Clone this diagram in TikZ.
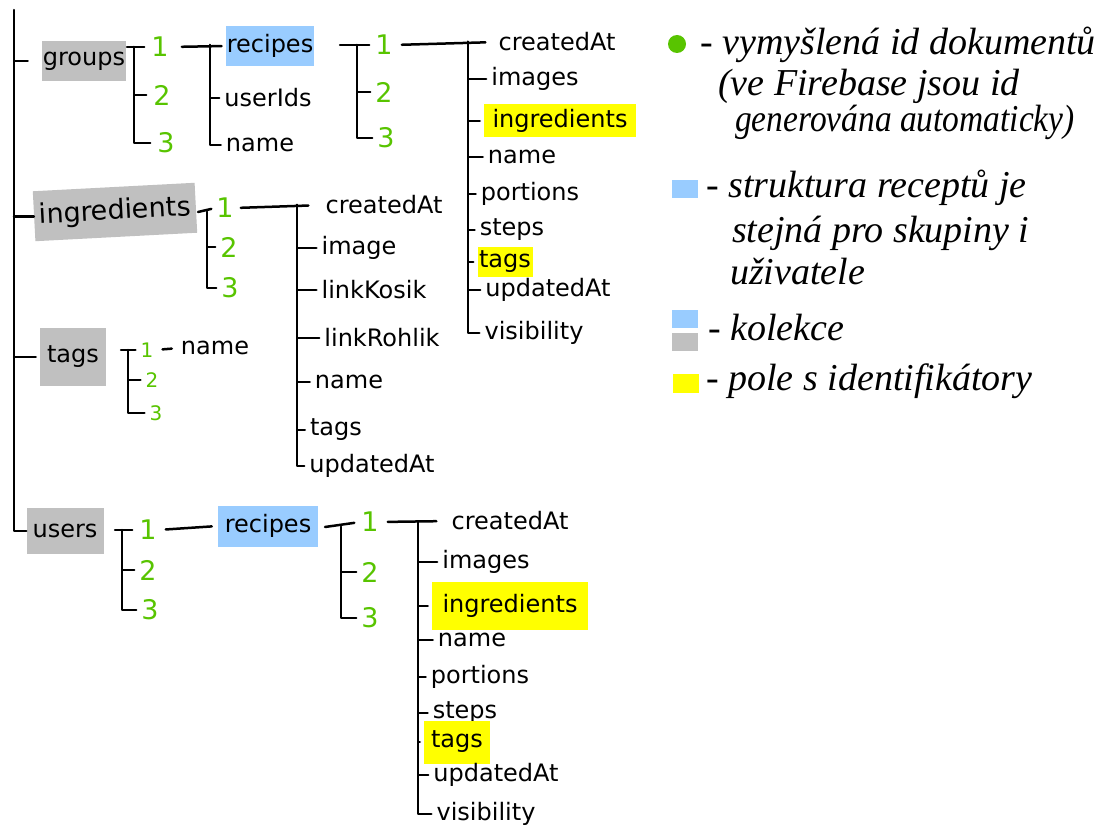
\documentclass[tikz,border=0pt]{standalone}
\usepackage{graphicx}
\usepackage{fontspec}
\setmainfont{DejaVu Sans}
\newfontfamily\handfont{Liberation Serif}
\begin{document}
\begin{tikzpicture}[x=1pt,y=-1pt]
\definecolor{idgreen}{RGB}{88,196,0}
\definecolor{collgray}{RGB}{192,192,192}
\definecolor{subblue}{RGB}{153,204,255}
\definecolor{arryellow}{RGB}{255,255,0}
\tikzset{
  wire/.style={line width=2.5pt, line cap=round, line join=round},
  tick/.style={wire, shorten >=4pt},
  leaf/.style={font=\fontsize{24}{28}\selectfont, inner sep=1pt},
  docid/.style={font=\fontsize{27}{31}\selectfont, text=idgreen, inner sep=1pt},
  smallid/.style={docid, font=\fontsize{20}{23}\selectfont},
  coll/.style={leaf, fill=collgray},
  subcoll/.style={leaf, fill=subblue},
  idarray/.style={leaf, fill=arryellow},
  note/.style={font=\handfont\itshape\fontsize{38}{42}\selectfont, anchor=west, inner sep=0pt},
  swatch/.style={rectangle, inner sep=0pt, minimum width=26pt, minimum height=18pt},
}
\fill[white] (0,0) rectangle (1116,832);
\path[use as bounding box] (0,0) rectangle (1116,832);

% ---------- collections ----------
\node[coll, minimum width=82pt, minimum height=40pt] (groups) at (84,61) {groups};
\node[coll, rotate=3, font=\fontsize{27}{31}\selectfont, minimum width=162pt, minimum height=50pt] (ingr) at (115,212) {ingredients};
\node[coll, minimum width=66pt, minimum height=58pt] (tags) at (73,357) {tags};
\node[coll, minimum width=77pt, minimum height=46pt] (users) at (65,531) {users};

\coordinate (trunktop) at (14,10);
\draw[wire] (trunktop) |- (users.west);
\draw[wire, shorten >=14pt] (trunktop |- groups.west) -- (groups.west);
\draw[wire] (trunktop |- ingr.west) -- (ingr.west);
\draw[wire, shorten >=4pt] (trunktop |- tags.west) -- (tags.west);

% ---------- groups ----------
\node[docid] (g1) at (160,47) {1};
\node[docid] (g2) at (162,95) {2};
\node[docid] (g3) at (166,143) {3};
\coordinate (gT) at (127,47);
\coordinate (gS) at (134,47);
\draw[wire, shorten >=6pt] (gT) -- (g1.west);
\draw[wire, shorten >=6pt] (gS) |- (g2.west);
\draw[wire, shorten >=6pt] (gS) |- (g3.west);

\node[subcoll, minimum width=70pt, minimum height=40pt] (gr) at (270,46) {recipes};
\node[leaf] (guid) at (268,98) {userIds};
\node[leaf] (gname) at (260,145) {name};
\draw[wire, shorten <=12pt, shorten >=4pt] (g1.east) -- (gr.west);
\coordinate (grS) at (210,45);
\draw[tick] (grS) |- (guid.west);
\draw[tick] (grS) |- (gname.west);

\node[docid] (r1) at (384,45) {1};
\node[docid] (r2) at (384,92) {2};
\node[docid] (r3) at (386,138) {3};
\coordinate (rT) at (340,45);
\coordinate (rS) at (357,45);
\draw[wire, shorten >=5pt] (rT) -- (r1.west);
\draw[tick] (rS) |- (r2.west);
\draw[tick] (rS) |- (r3.west);

\node[leaf] (ca) at (557,42) {createdAt};
\node[leaf] (im) at (535,79) {images};
\node[idarray, minimum width=152pt, minimum height=33pt] (ing) at (560,121) {ingredients};
\node[leaf] (nm) at (522,157) {name};
\node[leaf] (po) at (530,194) {portions};
\node[leaf] (st) at (512,230) {steps};
\node[idarray, minimum width=55pt, minimum height=30pt] (tg) at (505,262) {tags};
\node[leaf] (ua) at (548,290) {updatedAt};
\node[leaf] (vi) at (534,333) {visibility};
\draw[wire, shorten <=8pt, shorten >=12pt] (r1.east) -- (ca.west);
\coordinate (fS) at (468,42);
\foreach \f in {im,ing,nm,po,st,tg,ua,vi} \draw[tick] (fS) |- (\f.west);

% ---------- ingredients ----------
\node[docid] (i1) at (225,208) {1};
\node[docid] (i2) at (229,247) {2};
\node[docid] (i3) at (230,288) {3};
\coordinate (iT) at (198,212);
\coordinate (iS) at (207,212);
\draw[wire, shorten >=4pt] (iT) -- (i1.west);
\draw[tick] (iS) |- (i2.west);
\draw[tick] (iS) |- (i3.west);

\node[leaf] (ica) at (384,205) {createdAt};
\node[leaf] (iim) at (359,248) {image};
\node[leaf] (ilk) at (374,290) {linkKosik};
\node[leaf] (ilr) at (382,338) {linkRohlik};
\node[leaf] (inm) at (349,382) {name};
\node[leaf] (itg) at (336,430) {tags};
\node[leaf] (iua) at (372,466) {updatedAt};
\draw[wire, shorten <=6pt, shorten >=16pt] (i1.east) -- (ica.west);
\coordinate (iS2) at (297,205);
\foreach \f in {iim,ilk,ilr,inm,itg,iua} \draw[tick] (iS2) |- (\f.west);

% ---------- tags ----------
\node[smallid] (t1) at (147,350) {1};
\node[smallid] (t2) at (152,380) {2};
\node[smallid] (t3) at (156,413) {3};
\coordinate (tT) at (121,350);
\coordinate (tS) at (128,350);
\draw[wire, shorten >=4pt] (tT) -- (t1.west);
\draw[tick] (tS) |- (t2.west);
\draw[tick] (tS) |- (t3.west);
\node[leaf] (tname) at (215,348) {name};
\draw[wire, shorten <=8pt, shorten >=8pt] (t1.east) -- (tname.west);

% ---------- users ----------
\node[docid] (u1) at (148,530) {1};
\node[docid] (u2) at (148,570) {2};
\node[docid] (u3) at (150,610) {3};
\coordinate (uT) at (115,530);
\coordinate (uS) at (122,530);
\draw[wire, shorten >=6pt] (uT) -- (u1.west);
\draw[tick] (uS) |- (u2.west);
\draw[tick] (uS) |- (u3.west);

\node[subcoll, minimum width=100pt, minimum height=41pt] (ur) at (268,526) {recipes};
\draw[wire, shorten <=8pt, shorten >=6pt] (u1.east) -- (ur.west);

\node[docid] (ur1) at (370,522) {1};
\node[docid] (ur2) at (370,572) {2};
\node[docid] (ur3) at (370,618) {3};
\coordinate (urT) at (325,527);
\coordinate (urS) at (341,527);
\draw[wire, shorten >=6pt] (urT) -- (ur1.west);
\draw[tick] (urS) |- (ur2.west);
\draw[tick] (urS) |- (ur3.west);

\node[leaf] (uca) at (510,521) {createdAt};
\node[leaf] (uim) at (486,562) {images};
\node[idarray, minimum width=156pt, minimum height=48pt] (uing) at (510,606) {ingredients};
\node[leaf] (unm) at (472,640) {name};
\node[leaf] (upo) at (480,677) {portions};
\node[leaf] (ust) at (465,713) {steps};
\node[idarray, minimum width=66pt, minimum height=43pt] (utg) at (457,742) {tags};
\node[leaf] (uua) at (496,775) {updatedAt};
\node[leaf] (uvi) at (486,814) {visibility};
\draw[wire, shorten <=8pt, shorten >=14pt] (ur1.east) -- (uca.west);
\coordinate (ufS) at (418,523);
\foreach \f in {uim,uing,unm,upo,ust,utg,uua,uvi} \draw[tick] (ufS) |- (\f.west);

% ---------- key ----------
\node[circle, fill=idgreen, minimum size=18pt, inner sep=0pt] (keyid) at (677,44) {};
\node[note] (n1) at (700,45) {- vymyšlená id dokumentů};
\node[note] (n2) at (718,86) {(ve Firebase jsou id};
\node[note] (n3) at (735,122) {\scalebox{0.88}[1]{generována automaticky)}};

\node[swatch, fill=subblue] (keysub) at (684.5,189) {};
\node[note] (n4) at (706,188) {- struktura receptů je};
\node[note] (n5) at (732,233) {stejná pro skupiny i};
\node[note] (n6) at (730,272) {uživatele};

\node[swatch, fill=subblue] (keycolla) at (685,319) {};
\node[swatch, fill=collgray] (keycollb) at (685,342) {};
\node[note] (n7) at (708,327) {- kolekce};

\node[swatch, fill=arryellow, minimum height=19pt] (keyarr) at (685.5,383.5) {};
\node[note] (n8) at (706,381) {- pole s identifikátory};
\end{tikzpicture}
\end{document}
